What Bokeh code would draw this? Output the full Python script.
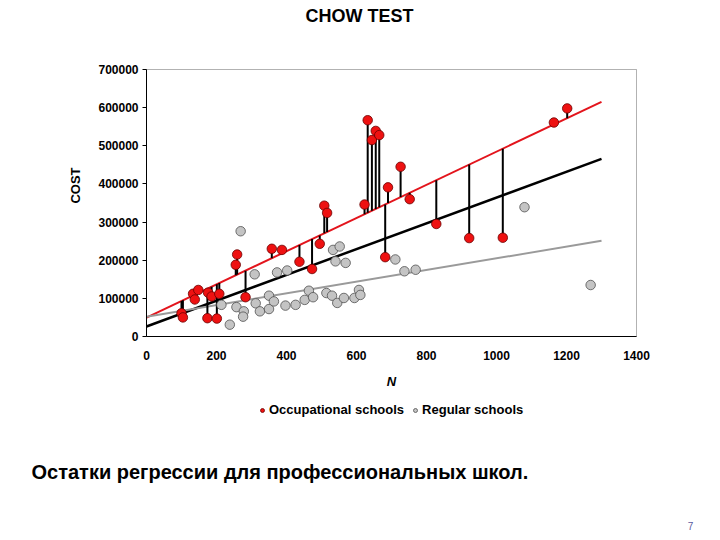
import math
from bokeh.plotting import figure
from bokeh.models import Range1d, FixedTicker, Label, Legend, LegendItem, BoxAnnotation
from bokeh.embed import file_html
from bokeh.resources import INLINE

# ---------------- data ----------------
occ_n = [100, 104, 133, 138, 148, 176, 186, 174, 201, 208, 255, 259, 283, 358, 387,
         437, 473, 495, 508, 516, 623, 632, 644, 655, 665, 690, 682, 726, 752, 828,
         922, 1018, 1164, 1202]
occ_cost = [61000, 50000, 112000, 97000, 122000, 115000, 105000, 48000, 47000, 112000,
            188000, 215000, 103000, 230000, 227000, 196000, 177000, 243000, 343000, 324000,
            346000, 567000, 515000, 539000, 528000, 391000, 208000, 445000, 360000, 295000,
            258000, 259000, 561000, 598000]

reg_n = [214, 238, 257, 278, 276, 269, 309, 312, 324, 350, 350, 364, 373, 402, 397,
         426, 452, 464, 476, 514, 530, 545, 564, 533, 552, 540, 569, 594, 607, 611,
         711, 737, 769, 1080, 1269]
reg_cost = [83000, 31000, 77000, 66000, 52000, 276000, 163000, 87000, 66000, 107000,
            72000, 92000, 168000, 173000, 81000, 83000, 96000, 120000, 103000, 114000,
            107000, 88000, 101000, 227000, 236000, 197000, 193000, 101000, 122000, 109000,
            202000, 171000, 175000, 339000, 135000]

# regression lines: intercept, slope, N range
line_names = ["occupational", "pooled", "regular"]
line_intercepts = [49600, 26300, 52000]
line_slopes = [435, 338, 153]
line_n_range = [0, 1300]

x_axis_range = [0, 1400]
y_axis_range = [0, 700000]
x_ticks = [0, 200, 400, 600, 800, 1000, 1200, 1400]
x_tick_labels = ["0", "200", "400", "600", "800", "1000", "1200", "1400"]
y_ticks = [0, 100000, 200000, 300000, 400000, 500000, 600000, 700000]
y_tick_labels = ["0", "100000", "200000", "300000", "400000", "500000", "600000", "700000"]

title_text = "CHOW TEST"
x_label = "N"
y_label = "COST"
legend_labels = ["Occupational schools", "Regular schools"]
note_text = "Остатки регрессии для профессиональных школ."
page_text = "7"

FONT = "Liberation Sans"

# ---------------- layout (pixels) ----------------
W, H = 716, 536
PL, PR, PT, PB = 146, 636, 69, 336      # plot box in canvas pixels
xpp = (x_axis_range[1] - x_axis_range[0]) / (PR - PL)
ypp = (y_axis_range[1] - y_axis_range[0]) / (PB - PT)
x_range = Range1d(x_axis_range[0] - PL * xpp, x_axis_range[0] + (W - PL) * xpp)
y_range = Range1d(y_axis_range[0] - (H - PB) * ypp, y_axis_range[0] + PB * ypp)

p = figure(width=W, height=H, output_backend="svg", toolbar_location=None,
           x_range=x_range, y_range=y_range,
           min_border=0, min_border_left=0, min_border_right=0,
           min_border_top=0, min_border_bottom=0)
p.background_fill_color = "white"
p.border_fill_color = "white"
p.outline_line_color = None
p.xgrid.visible = False
p.ygrid.visible = False

# axes fixed at the data origin
p.xaxis.fixed_location = y_axis_range[0]
p.xaxis.bounds = tuple(x_axis_range)
p.xaxis.ticker = FixedTicker(ticks=x_ticks)
p.xaxis.major_label_overrides = dict(zip(x_ticks, x_tick_labels))
p.xaxis.major_tick_out = 0
p.xaxis.major_tick_in = 0
p.xaxis.minor_tick_out = 0
p.xaxis.minor_tick_in = 0
p.xaxis.major_label_standoff = 14

p.yaxis.fixed_location = x_axis_range[0]
p.yaxis.bounds = tuple(y_axis_range)
p.yaxis.ticker = FixedTicker(ticks=y_ticks)
p.yaxis.major_label_overrides = dict(zip(y_ticks, y_tick_labels))
p.yaxis.major_tick_out = 4
p.yaxis.major_tick_in = 0
p.yaxis.minor_tick_out = 0
p.yaxis.minor_tick_in = 0
p.yaxis.major_label_standoff = 4

for ax in (p.xaxis, p.yaxis):
    ax.axis_line_color = "black"
    ax.axis_line_width = 1
    ax.major_tick_line_color = "black"
    ax.major_label_text_font = FONT
    ax.major_label_text_font_size = "12px"
    ax.major_label_text_font_style = "bold"
    ax.major_label_text_color = "black"

# plot box (top and right edges)
p.add_layout(BoxAnnotation(left=x_axis_range[0], right=x_axis_range[1],
                           bottom=y_axis_range[0], top=y_axis_range[1],
                           fill_color=None, line_color="black", line_width=1,
                           level="underlay"))

# regression lines
line_colors = ["#e3141c", "black", "#9a9a9a"]
line_widths = [2, 2.5, 2]
for a, b, c, w in zip(line_intercepts, line_slopes, line_colors, line_widths):
    xs = list(line_n_range)
    ys = [a + b * x for x in xs]
    p.line(xs, ys, line_color=c, line_width=w)

# residuals of the occupational-school regression
a_occ, b_occ = line_intercepts[0], line_slopes[0]
fit = [a_occ + b_occ * n for n in occ_n]
p.segment(x0=occ_n, y0=occ_cost, x1=occ_n, y1=fit, line_color="black", line_width=2)

reg_r = p.scatter(reg_n, reg_cost, size=9.5, fill_color="#c4c4c4",
                  line_color="#505050", line_width=0.8)
occ_r = p.scatter(occ_n, occ_cost, size=9.5, fill_color="#ee1111",
                  line_color="#6a0000", line_width=0.8)

# legend
legend = Legend(items=[LegendItem(label=legend_labels[0], renderers=[occ_r]),
                       LegendItem(label=legend_labels[1], renderers=[reg_r])],
                orientation="horizontal", location=(257, H - 417))
legend.label_text_font = FONT
legend.label_text_font_size = "13px"
legend.label_text_font_style = "bold"
legend.label_text_color = "black"
legend.glyph_width = 10
legend.glyph_height = 12
legend.label_height = 12
legend.label_standoff = 2
legend.spacing = 6
legend.padding = 0
legend.margin = 0
legend.border_line_color = None
legend.background_fill_alpha = 0
p.add_layout(legend, "center")


def add_text(text, px, py, size, style="bold", align="center", color="black", angle=0.0):
    p.add_layout(Label(x=px, y=H - py, x_units="screen", y_units="screen", text=text,
                       text_font=FONT, text_font_size=size, text_font_style=style,
                       text_align=align, text_baseline="middle", text_color=color,
                       angle=angle))


add_text(title_text, 359, 15, "18px")
add_text(x_label, 391, 381, "13px", style="bold italic")
add_text(y_label, 75, 185, "13px", angle=math.pi / 2)
add_text(note_text, 31, 471, "20px", align="left")
add_text(page_text, 690, 525, "10px", style="normal", color="#5a5aa0")

open("out.html", "w").write(file_html(p, INLINE))
